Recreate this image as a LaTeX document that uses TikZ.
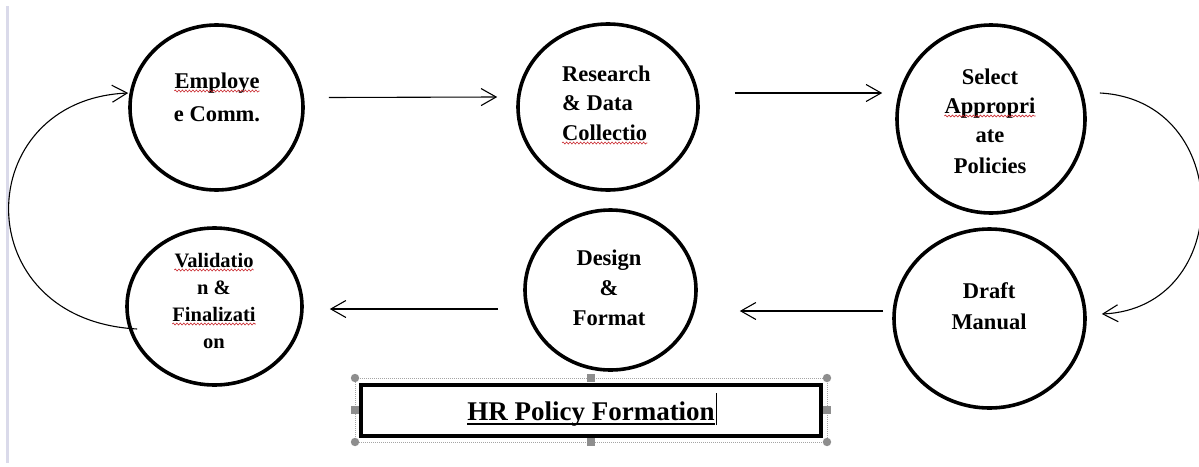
\documentclass[tikz,border=0pt]{standalone}
\usepackage{fontspec}
\setmainfont{Liberation Serif}
\usetikzlibrary{arrows.meta,shapes.geometric,decorations.pathmorphing}

\definecolor{spellred}{HTML}{C8252B}
\definecolor{handlegrey}{HTML}{8E8E8E}
\definecolor{sidebar}{HTML}{DADAEA}

\tikzset{
  stage/.style={ellipse, draw, line width=3.6pt, inner sep=0pt},
  captext/.style={font=\bfseries\fontsize{22.5}{27}\selectfont, inner sep=0pt, anchor=base},
  captextsmall/.style={font=\bfseries\fontsize{20.5}{25}\selectfont, inner sep=0pt, anchor=base},
  flow/.style={line width=1.1pt, -{Straight Barb[length=15pt,width=17pt]}},
  squiggle/.style={spellred, line width=0.6pt, decorate,
    decoration={snake, amplitude=1pt, segment length=3.5pt}},
  selframe/.style={draw=handlegrey!80, line width=0.6pt, dash pattern=on 1pt off 1pt},
}
% red wavy underline below a caption line
\newcommand\spellmark[1]{\draw[squiggle] ([yshift=-3pt]#1.base west) -- ([yshift=-3pt]#1.base east);}

\begin{document}
\begin{tikzpicture}[x=1pt, y=-1pt]
\useasboundingbox (0,0) rectangle (1199,466);

% thin bar along the left margin
\draw[sidebar, line width=3pt] (7.5,6) -- (7.5,463);

% the six stages
\node[stage, minimum width=173pt, minimum height=165pt] (emp) at (216.5,107.5) {};
\node[stage, minimum width=180pt, minimum height=166pt] (res) at (608,107) {};
\node[stage, minimum width=188pt, minimum height=188pt] (sel) at (991,119) {};
\node[stage, minimum width=175pt, minimum height=157pt] (val) at (214.5,306.5) {};
\node[stage, minimum width=171pt, minimum height=160pt] (des) at (610.5,290) {};
\node[stage, minimum width=191pt, minimum height=179pt] (dra) at (989.5,318.5) {};

% captions, one node per line
\node[captext] (emp1) at (217,88) {Employe};
\node[captext] (emp2) at (217,121) {e Comm.};
\spellmark{emp1}

\node[captext, anchor=base west] (res1) at (562,81) {Research};
\node[captext, anchor=base west] (res2) at (562,110.5) {\& Data};
\node[captext, anchor=base west] (res3) at (562,140) {Collectio};
\spellmark{res3}

\node[captext] (sel1) at (990,84) {Select};
\node[captext] (sel2) at (990,113) {Appropri};
\node[captext] (sel3) at (990,142) {ate};
\node[captext] (sel4) at (990,173) {Policies};
\spellmark{sel2}

\node[captextsmall] (val1) at (214,267) {Validatio};
\node[captextsmall] (val2) at (214,294) {n \&};
\node[captextsmall] (val3) at (214,321) {Finalizati};
\node[captextsmall] (val4) at (214,348) {on};
\spellmark{val1}
\spellmark{val3}

\node[captext] (des1) at (609,265) {Design};
\node[captext] (des2) at (609,295) {\&};
\node[captext] (des3) at (609,325) {Format};

\node[captext] (dra1) at (989,298) {Draft};
\node[captext] (dra2) at (989,329) {Manual};

% straight connectors
\draw[flow] ([shift={(24,-10)}]emp.east) -- ([shift={(-19,-10)}]res.west);
\draw[flow] ([shift={(35,-14)}]res.east) -- ([shift={(-13,-26)}]sel.west);
\draw[flow] ([shift={(-9,-7.5)}]dra.west) -- ([shift={(42,21)}]des.east);
\draw[flow] ([shift={(-25,19)}]des.west) -- ([shift={(26,2.5)}]val.east);

% curved connectors at both ends
\draw[flow] ([shift={(13,-26)}]sel.east)
  .. controls (1235,100) and (1235,308) .. ([shift={(15,-4.5)}]dra.east);
\draw[flow] ([shift={(12,22.5)}]val.west)
  .. controls (-35,320) and (-30,100) .. ([shift={(0,-14.5)}]emp.west);

% title box with its selection frame and handles
\node[draw, line width=3.6pt, minimum width=460.4pt, minimum height=51.4pt, inner sep=0pt]
  (titlebox) at (591,410.5) {};
\coordinate (fnw) at ([shift={(-4,-5)}]titlebox.north west);
\coordinate (fse) at ([shift={(4,4)}]titlebox.south east);
\draw[selframe] (fnw) rectangle (fse);
\foreach \p in {(355,378),(827,378),(355,442),(827,442)}
  \fill[handlegrey] \p circle (4.2pt);
\foreach \p in {(591,378),(591,442),(355,410),(827,410)}
  \fill[handlegrey] \p ++(-3.6,-3.6) rectangle ++(7.2,7.2);

\node[font=\bfseries\fontsize{27}{32}\selectfont, anchor=base, inner sep=0pt] (ttl) at (591,420)
  {HR Policy Formation};
\draw[line width=2.2pt] ([yshift=-3.6pt]ttl.base west) -- ([yshift=-3.6pt]ttl.base east);
\draw[line width=0.9pt] ([shift={(1.5,5)}]ttl.base east) -- ++(0,-32);
\end{tikzpicture}
\end{document}
